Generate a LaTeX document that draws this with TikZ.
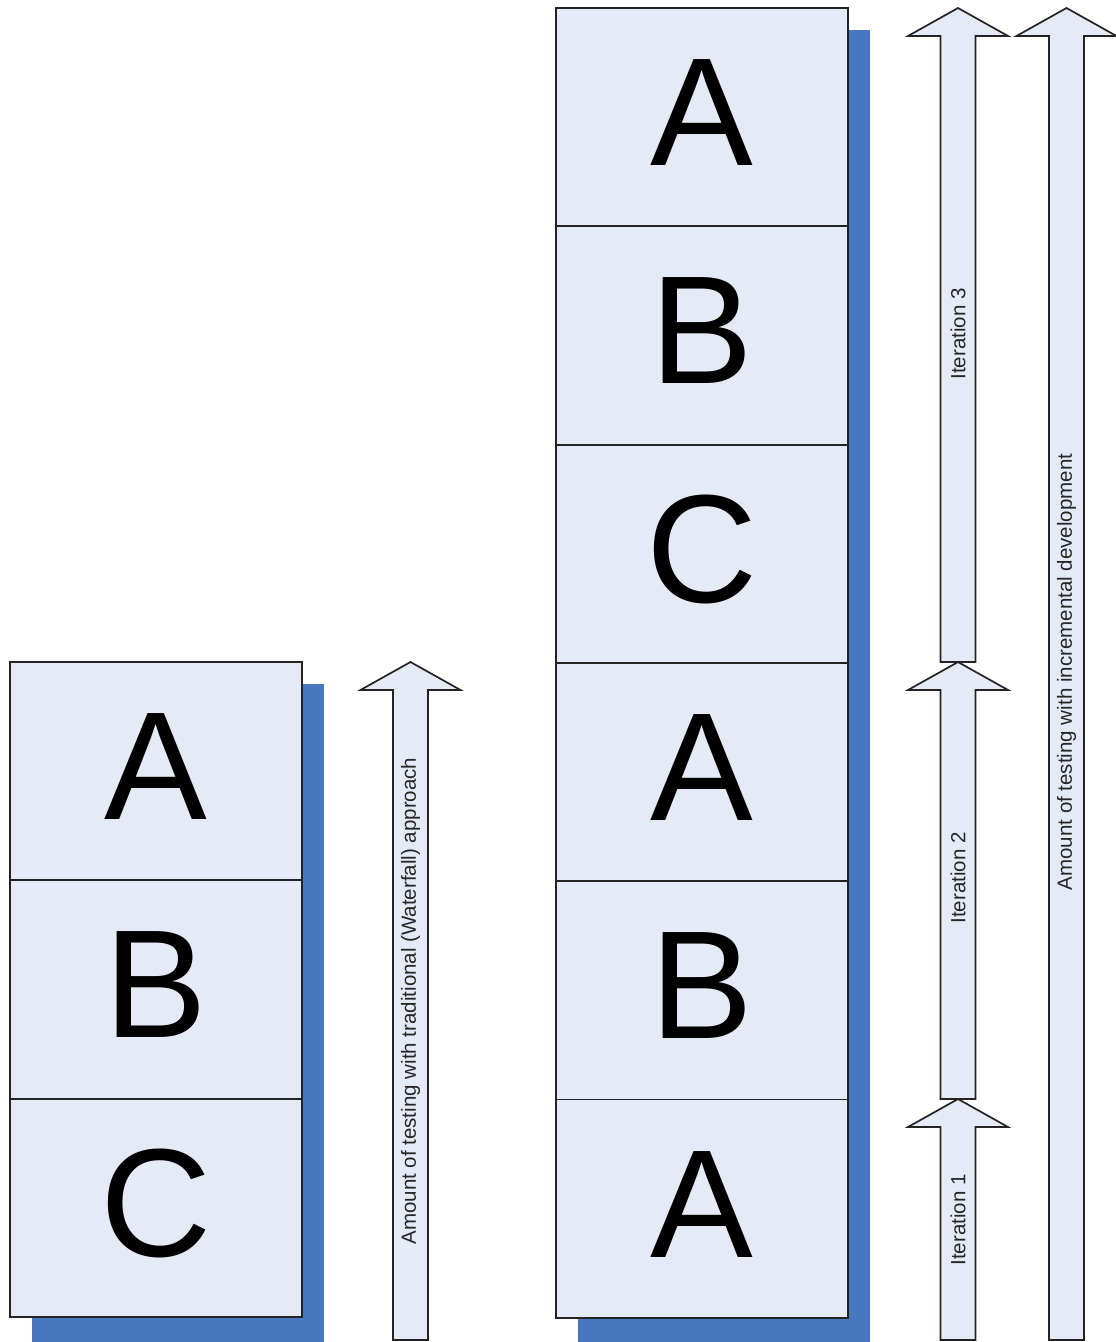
\documentclass[tikz,border=0pt]{standalone}
\usepackage{fontspec}
\setmainfont{Liberation Sans}
\definecolor{boxfill}{RGB}{229,235,246}
\definecolor{shadowblue}{RGB}{72,120,192}
\definecolor{edge}{RGB}{35,35,35}
\tikzset{
  blockbox/.style={draw=edge, line width=1.8pt, fill=boxfill, minimum width=292pt, minimum height=218.3pt, inner sep=0pt, outer sep=0pt},
  bigletter/.style={font=\fontsize{154}{154}\selectfont, anchor=base, inner sep=0pt},
  uparrow/.style={draw=edge, line width=1.7pt, fill=boxfill, line join=miter},
  arrowlabel/.style={font=\fontsize{20.5}{21}\selectfont, rotate=90, inner sep=0pt, text=black!85}
}
% #1 centre x, #2 tip y, #3 bottom y
\newcommand{\UpArrowShape}[3]{%
  \draw[uparrow] (#1-50,#2+28) -- (#1,#2) -- (#1+50,#2+28) -- (#1+17.5,#2+28)
    -- (#1+17.5,#3) -- (#1-17.5,#3) -- (#1-17.5,#2+28) -- cycle;}
\begin{document}
\begin{tikzpicture}[x=1pt,y=-1pt]
\clip (0,0) rectangle (1116,1342);
\fill[white] (0,0) rectangle (1116,1342);
% shadows
\fill[shadowblue] (32,684) rectangle (324,1360);
\fill[shadowblue] (578,30) rectangle (870,1360);
% left stack
\node[blockbox, anchor=north west] (lA) at (10,662) {};
\node[blockbox, anchor=north west] (lB) at (10,880.3) {};
\node[blockbox, anchor=north west] (lC) at (10,1098.6) {};
% right stack
\node[blockbox, anchor=north west] (r1) at (556,8) {};
\node[blockbox, anchor=north west] (r2) at (556,226.3) {};
\node[blockbox, anchor=north west] (r3) at (556,444.6) {};
\node[blockbox, anchor=north west] (r4) at (556,662.9) {};
\node[blockbox, anchor=north west] (r5) at (556,881.2) {};
\node[blockbox, anchor=north west] (r6) at (556,1099.5) {};
% letters
\node[bigletter] (tlA) at ([yshift=-157.5pt]lA.north) {A};
\node[bigletter] (tlB) at ([yshift=-157.5pt]lB.north) {B};
\node[bigletter] (tlC) at ([yshift=-157.5pt]lC.north) {C};
\node[bigletter] (tr1) at ([yshift=-157.5pt]r1.north) {A};
\node[bigletter] (tr2) at ([yshift=-157.5pt]r2.north) {B};
\node[bigletter] (tr3) at ([yshift=-157.5pt]r3.north) {C};
\node[bigletter] (tr4) at ([yshift=-157.5pt]r4.north) {A};
\node[bigletter] (tr5) at ([yshift=-157.5pt]r5.north) {B};
\node[bigletter] (tr6) at ([yshift=-157.5pt]r6.north) {A};
% arrows
\UpArrowShape{410.5}{662}{1340}
\UpArrowShape{958}{8}{662}
\UpArrowShape{958}{662}{1099}
\UpArrowShape{958}{1099}{1340}
\UpArrowShape{1066.5}{8}{1340}
% arrow labels
\node[arrowlabel] (wf) at (410.5,1001) {Amount of testing with traditional (Waterfall) approach};
\node[arrowlabel] (it3) at (958,334) {Iteration 3};
\node[arrowlabel] (it2) at (958,878) {Iteration 2};
\node[arrowlabel] (it1) at (958,1220) {Iteration 1};
\node[arrowlabel] (inc) at (1066.5,672) {Amount of testing with incremental development};
\end{tikzpicture}
\end{document}
